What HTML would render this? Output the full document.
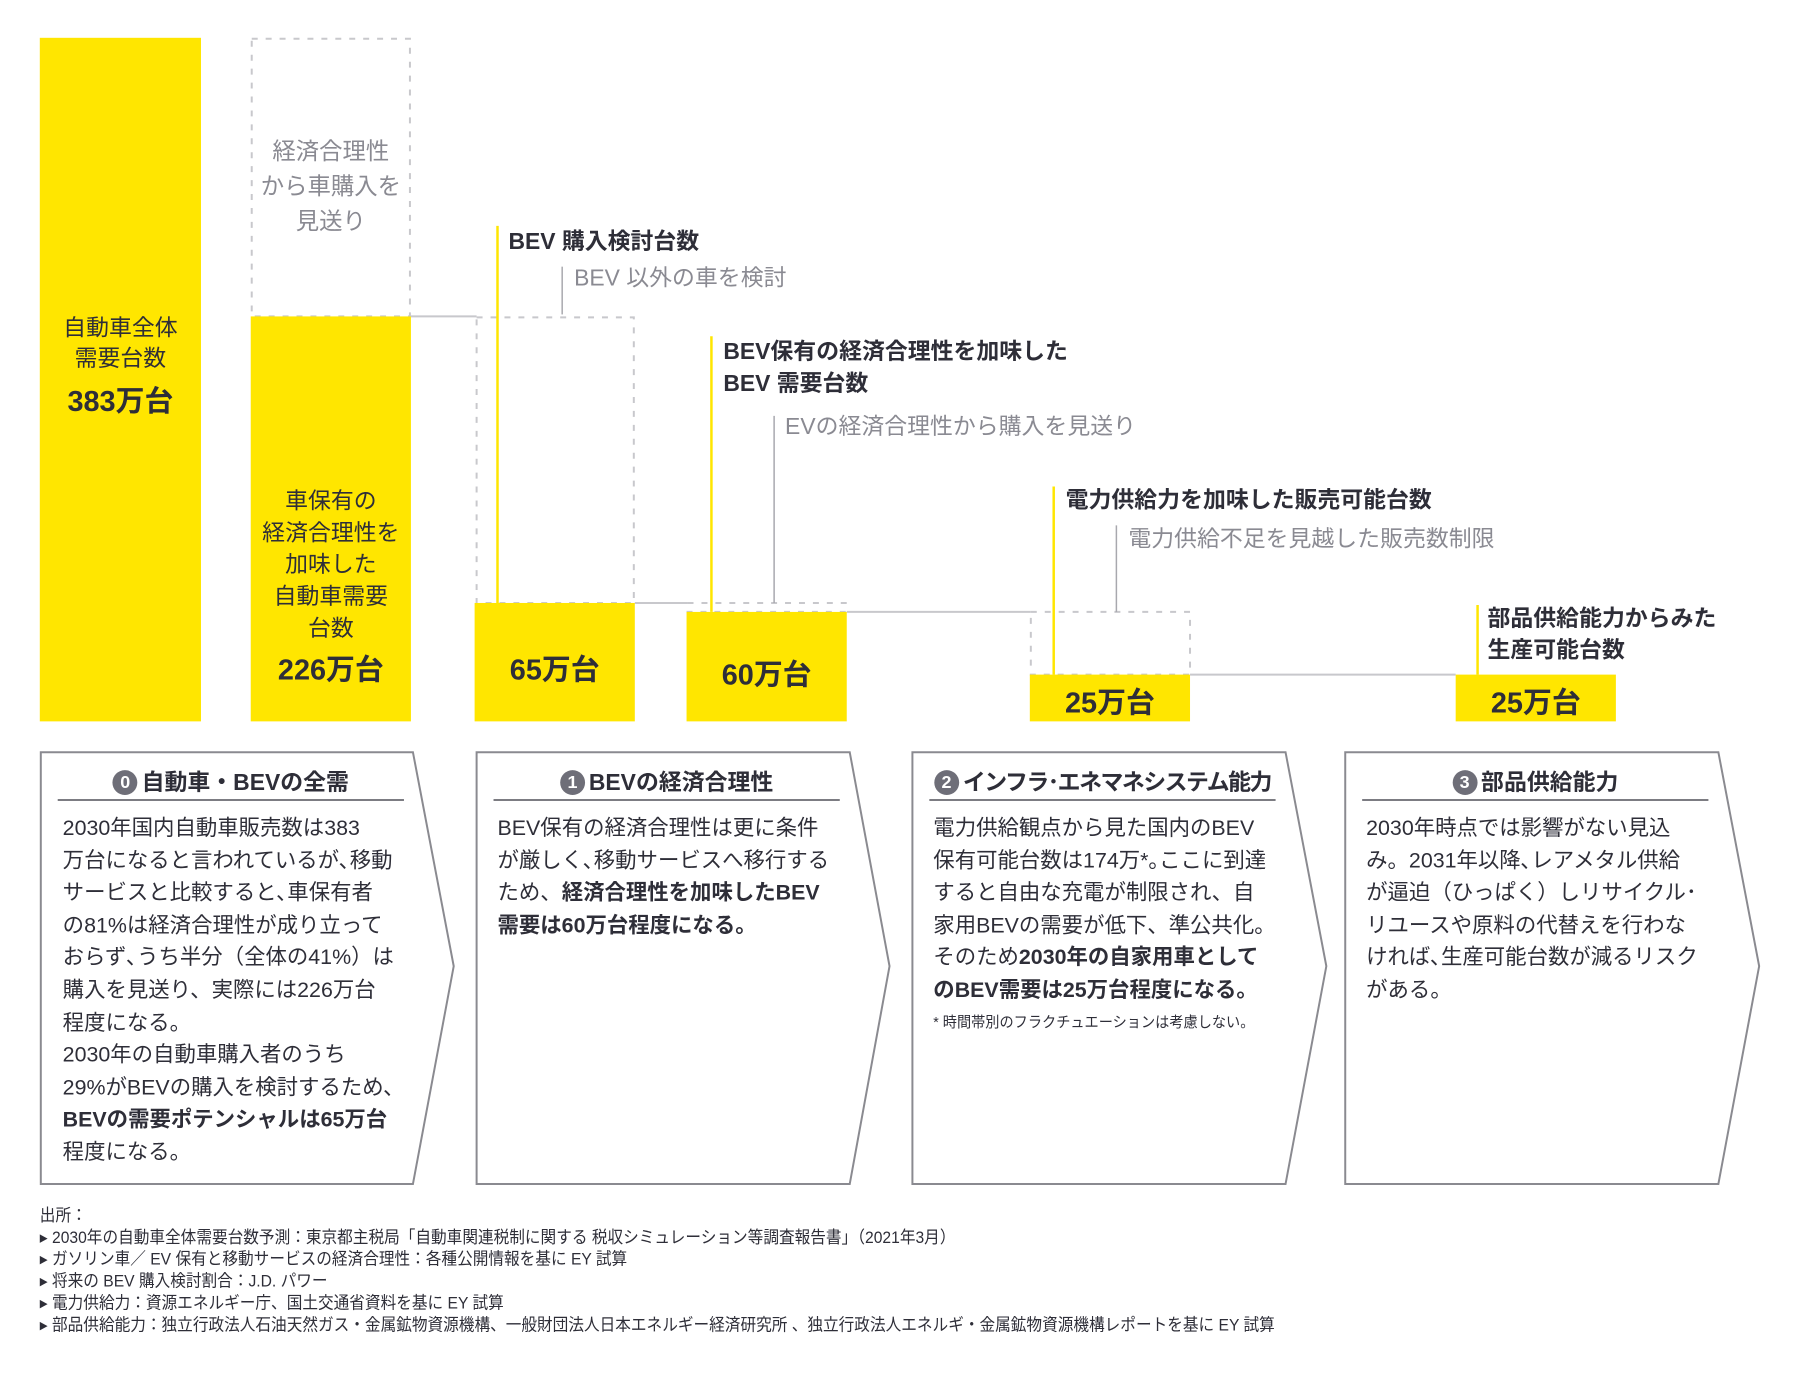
<!DOCTYPE html>
<html><head><meta charset="utf-8"><style>
body{margin:0;width:1800px;height:1375px;background:#fff;position:relative;overflow:hidden;font-family:"Liberation Sans","Noto Sans CJK JP",sans-serif;color:#2e2e38}
#w{position:absolute;left:0;top:0;width:1800px;height:1375px;transform:scale(0.995);transform-origin:0 0}
.a{position:absolute;white-space:nowrap}
.y{position:absolute;background:#ffe600}
.c{text-align:center}
.lb{font-size:23px;font-weight:bold;line-height:32px}
.gl{font-size:23px;color:#8a8a92;line-height:30px}
.big{font-size:29px;font-weight:bold}
.hd{font-size:23px;font-weight:bold;text-align:center;line-height:30px}
.bd{font-size:21.5px;line-height:32.6px}
.num{display:inline-block;width:25px;height:25px;border-radius:50%;background:#6e6e78;color:#fff;font-size:18px;line-height:25px;text-align:center;vertical-align:2px;margin-right:4px}
.fn{font-size:17px;line-height:22px;transform:scaleX(.925);transform-origin:0 0}
</style></head><body><div id="w">
<svg class="a" style="left:0;top:0" width="1800" height="1375">
<g stroke="#c8c8cc" stroke-width="2" fill="none">
<rect x="253" y="39" width="159" height="279" stroke-dasharray="6,8"/>
<rect x="479" y="319" width="158" height="287" stroke-dasharray="6,8"/>
<rect x="691" y="606" width="159" height="9" stroke-dasharray="6,8"/>
<rect x="1036" y="615" width="160" height="63" stroke-dasharray="6,8"/>
<line x1="413" y1="318" x2="479" y2="318"/>
<line x1="638" y1="606" x2="691" y2="606"/>
<line x1="851" y1="615" x2="1036" y2="615"/>
<line x1="1196" y1="678" x2="1463" y2="678"/>
</g>
<g stroke="#a8a8ae" stroke-width="1.5">
<line x1="565" y1="268" x2="565" y2="316"/>
<line x1="778" y1="418" x2="778" y2="606"/>
<line x1="1122" y1="528" x2="1122" y2="615"/>
</g>
<g stroke="#ffe600" stroke-width="2.5">
<line x1="500" y1="227" x2="500" y2="606"/>
<line x1="715" y1="338" x2="715" y2="615"/>
<line x1="1059" y1="489" x2="1059" y2="678"/>
<line x1="1485" y1="608" x2="1485" y2="678"/>
</g>
<g stroke="#8a8a90" stroke-width="2" fill="none">
<polygon points="41,756 415,756 456,971 415,1190 41,1190"/>
<polygon points="479,756 854,756 894,971 854,1190 479,1190"/>
<polygon points="917,756 1292,756 1333,971 1292,1190 917,1190"/>
<polygon points="1352,756 1727,756 1768,971 1727,1190 1352,1190"/>
</g>
<g stroke="#2e2e38" stroke-width="1.3">
<line x1="58" y1="804" x2="406" y2="804"/>
<line x1="496" y1="804" x2="844" y2="804"/>
<line x1="934" y1="804" x2="1282" y2="804"/>
<line x1="1369" y1="804" x2="1717" y2="804"/>
</g>
</svg>
<div class="y" style="left:40px;top:38px;width:162px;height:687px"></div>
<div class="y" style="left:252px;top:318px;width:161px;height:407px"></div>
<div class="y" style="left:477px;top:606px;width:161px;height:119px"></div>
<div class="y" style="left:690px;top:615px;width:161px;height:110px"></div>
<div class="y" style="left:1035px;top:678px;width:161px;height:47px"></div>
<div class="y" style="left:1463px;top:678px;width:161px;height:47px"></div>

<div class="a c" style="left:40px;width:162px;top:314px;font-size:23px;line-height:31px">自動車全体<br>需要台数</div>
<div class="a c big" style="left:40px;width:162px;top:380px">383万台</div>
<div class="a c gl" style="left:252px;width:161px;top:135px;line-height:35px;font-size:23.5px">経済合理性<br>から車購入を<br>見送り</div>
<div class="a c" style="left:252px;width:161px;top:487px;font-size:23px;line-height:32px">車保有の<br>経済合理性を<br>加味した<br>自動車需要<br>台数</div>
<div class="a c big" style="left:252px;width:161px;top:650px">226万台</div>
<div class="a c big" style="left:477px;width:161px;top:650px">65万台</div>
<div class="a c big" style="left:690px;width:161px;top:655px">60万台</div>
<div class="a c big" style="left:1035px;width:161px;top:683px">25万台</div>
<div class="a c big" style="left:1463px;width:161px;top:683px">25万台</div>

<div class="a lb" style="left:511px;top:226px">BEV 購入検討台数</div>
<div class="a gl" style="left:577px;top:264px">BEV 以外の車を検討</div>
<div class="a lb" style="left:727px;top:337px">BEV保有の経済合理性を加味した<br>BEV 需要台数</div>
<div class="a gl" style="left:789px;top:413px">EVの経済合理性から購入を見送り</div>
<div class="a lb" style="left:1071px;top:486px">電力供給力を加味した販売可能台数</div>
<div class="a gl" style="left:1134px;top:526px">電力供給不足を見越した販売数制限</div>
<div class="a lb" style="left:1495px;top:605px">部品供給能力からみた<br>生産可能台数</div>

<div class="a hd" style="left:58px;width:348px;top:771px"><span class="num">0</span>自動車・BEVの全需</div>
<div class="a hd" style="left:496px;width:348px;top:771px"><span class="num">1</span>BEVの経済合理性</div>
<div class="a hd" style="left:934px;width:348px;top:771px;letter-spacing:-1.5px"><span class="num" style="letter-spacing:0">2</span>インフラ･エネマネシステム能力</div>
<div class="a hd" style="left:1369px;width:348px;top:771px"><span class="num">3</span>部品供給能力</div>

<div class="a bd" style="left:63px;top:816px">2030年国内自動車販売数は383<br>万台になると言われているが､移動<br>サービスと比較すると､車保有者<br>の81%は経済合理性が成り立って<br>おらず､うち半分（全体の41%）は<br>購入を見送り、実際には226万台<br>程度になる。<br>2030年の自動車購入者のうち<br>29%がBEVの購入を検討するため､<br><b>BEVの需要ポテンシャルは65万台</b><br>程度になる。</div>
<div class="a bd" style="left:500px;top:816px">BEV保有の経済合理性は更に条件<br>が厳しく､移動サービスへ移行する<br>ため、<b>経済合理性を加味したBEV<br>需要は60万台程度になる。</b></div>
<div class="a bd" style="left:938px;top:816px">電力供給観点から見た国内のBEV<br>保有可能台数は174万*｡ここに到達<br>すると自由な充電が制限され、自<br>家用BEVの需要が低下、準公共化。<br>そのため<b>2030年の自家用車として<br>のBEV需要は25万台程度になる。</b></div>
<div class="a" style="left:938px;top:1016px;font-size:15px;transform:scaleX(.95);transform-origin:0 0">* 時間帯別のフラクチュエーションは考慮しない。</div>
<div class="a bd" style="left:1373px;top:816px">2030年時点では影響がない見込<br>み。2031年以降､レアメタル供給<br>が逼迫（ひっぱく）しリサイクル･<br>リユースや原料の代替えを行わな<br>ければ､生産可能台数が減るリスク<br>がある。</div>

<div class="a fn" style="left:40px;top:1211px">出所：<br>▸ 2030年の自動車全体需要台数予測：東京都主税局「自動車関連税制に関する 税収シミュレーション等調査報告書」（2021年3月）<br>▸ ガソリン車／ EV 保有と移動サービスの経済合理性：各種公開情報を基に EY 試算<br>▸ 将来の BEV 購入検討割合：J.D. パワー<br>▸ 電力供給力：資源エネルギー庁、国土交通省資料を基に EY 試算<br>▸ 部品供給能力：独立行政法人石油天然ガス・金属鉱物資源機構、一般財団法人日本エネルギー経済研究所 、独立行政法人エネルギ・金属鉱物資源機構レポートを基に EY 試算</div>
</div></body></html>
